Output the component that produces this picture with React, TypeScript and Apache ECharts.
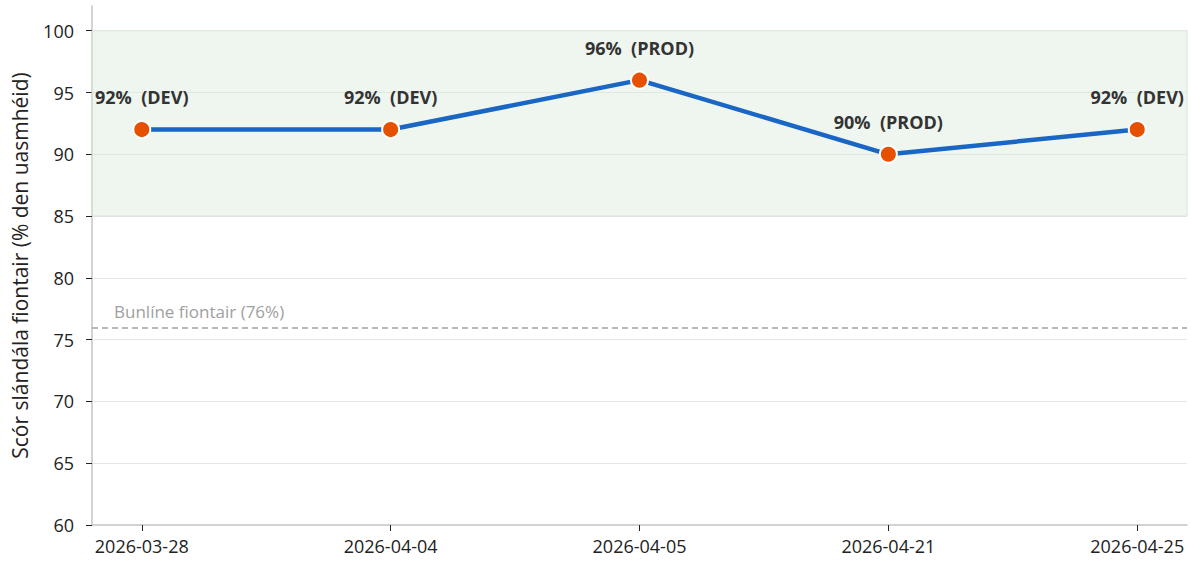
import React, { useEffect, useRef } from "react";
import * as echarts from "echarts";

const categories = ["2026-03-28", "2026-04-04", "2026-04-05", "2026-04-21", "2026-04-25"];
const scores = [92, 92, 96, 90, 92];
const envs = ["DEV", "DEV", "PROD", "PROD", "DEV"];
const yTicks = [60, 65, 70, 75, 80, 85, 90, 95, 100];
const baseline = 76;
const targetBand = [85, 100];

const FONT = "'Open Sans', 'Noto Sans', sans-serif";

export default function App() {
  const ref = useRef<HTMLDivElement>(null);
  useEffect(() => {
    if (!ref.current) return;
    const chart = echarts.init(ref.current, null, { renderer: "svg" });
    const xIdx = categories.map((_, i) => i);
    chart.setOption({
      animation: false,
      textStyle: { fontFamily: FONT },
      grid: { left: 92, right: 4, top: 6, bottom: 37, containLabel: false, outerBoundsMode: "none" },
      xAxis: {
        type: "value",
        min: -0.2,
        max: categories.length - 1 + 0.2,
        axisLine: { show: true, onZero: false, lineStyle: { color: "#c4c4c4", width: 1.5 } },
        axisTick: { show: true, customValues: xIdx, length: 6, lineStyle: { color: "#222" } },
        axisLabel: {
          customValues: xIdx,
          formatter: (v: number) => categories[Math.round(v)] ?? "",
          color: "#222",
          fontSize: 18,
          margin: 12,
          fontFamily: FONT,
        },
        splitLine: { show: false },
      },
      yAxis: {
        type: "value",
        min: 60,
        max: 102,
        name: "Scór slándála fiontair (% den uasmhéid)",
        nameLocation: "middle",
        nameGap: 62,
        nameTextStyle: { fontSize: 21, color: "#222", fontFamily: FONT },
        axisLine: { show: true, onZero: false, lineStyle: { color: "#c4c4c4", width: 1.5 } },
        axisTick: { show: true, customValues: yTicks, length: 6, lineStyle: { color: "#222" } },
        axisLabel: { customValues: yTicks, color: "#222", fontSize: 18, margin: 18, fontFamily: FONT },
        splitLine: { show: true, showMaxLine: false, showMinLine: false, lineStyle: { color: "#e6e6e6", width: 1 } },
      },
      series: [
        {
          type: "line",
          data: scores.map((s, i) => [i, s]),
          lineStyle: { color: "#1a66c4", width: 4.5 },
          itemStyle: { color: "#e65100", borderColor: "#ffffff", borderWidth: 2 },
          symbol: "circle",
          symbolSize: 17,
          z: 5,
          label: {
            show: true,
            position: "top",
            distance: 14,
            formatter: (p: any) => `${scores[p.dataIndex]}%  (${envs[p.dataIndex]})`,
            fontSize: 18,
            fontWeight: "bold",
            color: "#333",
            fontFamily: FONT,
          },
          markArea: {
            silent: true,
            itemStyle: { color: "rgba(220,234,220,0.45)", borderColor: "#d8e2d8", borderWidth: 1 },
            data: [[{ yAxis: targetBand[0] }, { yAxis: targetBand[1] }]],
          },
          markLine: {
            silent: true,
            symbol: "none",
            lineStyle: { color: "#a0a0a0", type: [6, 4], width: 1.5 },
            label: {
              show: true,
              position: "insideStartTop",
              formatter: "Bunlíne fiontair (76%)",
              color: "#a0a0a0",
              fontSize: 17,
              fontFamily: FONT,
              distance: [22, 7],
            },
            data: [{ yAxis: baseline }],
          },
        },
      ],
    });
    return () => chart.dispose();
  }, []);
  return <div ref={ref} style={{ width: 1191, height: 562, position: "absolute", left: 0, top: 0 }} />;
}
